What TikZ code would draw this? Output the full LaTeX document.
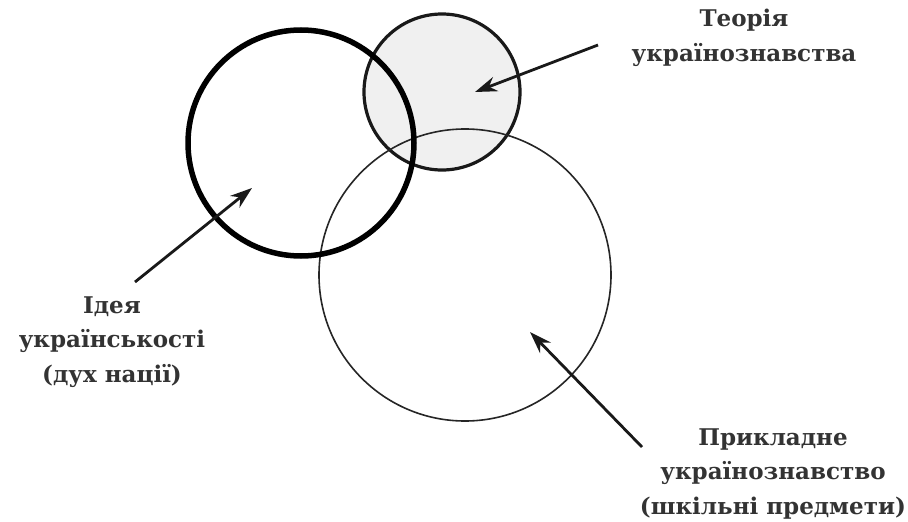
\documentclass[tikz,border=0pt]{standalone}
\usepackage{fontspec}
\setmainfont{DejaVu Serif}
\usetikzlibrary{arrows.meta}
\begin{document}
\begin{tikzpicture}[x=1pt,y=-1pt,
  lbl/.style={font=\bfseries\fontsize{23}{34.5}\selectfont, text=black!80, align=center, inner sep=0pt},
  ptr/.style={line width=2.8pt, black!90, -{Stealth[length=22pt,width=15pt]}}]
\useasboundingbox (0,0) rectangle (908,522);
\fill[white] (0,0) rectangle (908,522);
% circles
\fill[black!6] (442,92) circle[radius=78];
\node[circle, draw=black!90, line width=3.2pt, minimum size=156pt, inner sep=0pt] (teo) at (442,92) {};
\node[circle, draw=black!85, line width=1.6pt, minimum size=292pt, inner sep=0pt] (pryk) at (465,275) {};
\node[circle, draw=black, line width=5.5pt, minimum size=226pt, inner sep=0pt] (ideia) at (301,143) {};
% labels
\node[lbl] (lteo) at (744,38) {Теорія\\українознавства};
\node[lbl] (lid) at (112,342) {Ідея\\українськості\\(дух нації)};
\node[lbl] (lpr) at (773,474) {Прикладне\\українознавство\\(шкільні предмети)};
% arrow anchors
\coordinate (t1) at (598,45);
\coordinate (t2) at (475,92);
\coordinate (i1) at (135,282);
\coordinate (i2) at (252,188);
\coordinate (p1) at (642,447);
\coordinate (p2) at (530,332);
\draw[ptr] (t1) -- (t2);
\draw[ptr] (i1) -- (i2);
\draw[ptr] (p1) -- (p2);
\end{tikzpicture}
\end{document}
